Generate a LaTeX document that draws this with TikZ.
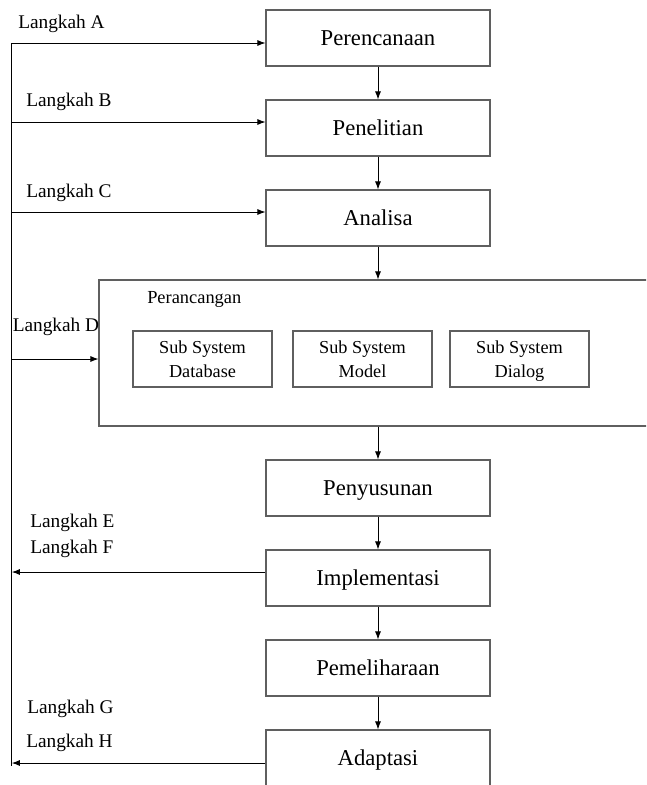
\documentclass[tikz,border=0pt]{standalone}
\usepackage{fontspec}
\setmainfont{Liberation Serif}
\usetikzlibrary{arrows.meta}
\definecolor{boxgray}{RGB}{95,95,95}
\tikzset{
  stepbox/.style={draw=boxgray, line width=0.8pt, minimum width=168pt, minimum height=42pt, inner sep=0pt,
    font=\fontsize{17}{20}\selectfont, text height=11.7pt, text depth=0pt},
  subbox/.style={draw=boxgray, line width=0.8pt, minimum width=104.25pt, minimum height=42pt, inner sep=0pt,
    align=center, font=\fontsize{13.7}{18}\selectfont},
  bigbox/.style={draw=boxgray, line width=0.8pt, minimum width=420.75pt, minimum height=109.5pt, inner sep=0pt},
  lbl/.style={anchor=base west, inner sep=0pt, font=\fontsize{14.5}{17}\selectfont},
  arr/.style={draw=black, line width=0.7pt, -{Latex[length=6pt,width=4.5pt]}},
  ln/.style={draw=black, line width=0.7pt}
}
\begin{document}
\begin{tikzpicture}[x=0.75pt, y=-0.75pt]
\clip (0,0) rectangle (646,785);
\fill[white] (0,0) rectangle (646,785);
% main boxes
\node[stepbox] (a) at (378,38) {Perencanaan};
\node[stepbox] (b) at (378,128) {Penelitian};
\node[stepbox] (c) at (378,218) {Analisa};
\node[bigbox] (per) at (379.5,353) {};
\node[lbl, font=\fontsize{13.8}{16}\selectfont] (perl) at (147,303) {Perancangan};
\node[subbox] (s1) at (202.5,359) {Sub System\\Database};
\node[subbox] (s2) at (362.5,359) {Sub System\\Model};
\node[subbox] (s3) at (519.5,359) {Sub System\\\smash{Dialog}};
\node[stepbox] (e) at (378,488) {Penyusunan};
\node[stepbox] (f) at (378,578) {Implementasi};
\node[stepbox] (g) at (378,668) {Pemeliharaan};
\node[stepbox] (h) at (378,758) {Adaptasi};
% vertical arrows
\draw[arr] (a.south) -- (b.north);
\draw[arr] (b.south) -- (c.north);
\draw[arr] (c.south) -- (c.south |- per.north);
\draw[arr] (c.south |- per.south) -- (e.north);
\draw[arr] (e.south) -- (f.north);
\draw[arr] (f.south) -- (g.north);
\draw[arr] (g.south) -- (h.north);
% left line
\coordinate (lA) at (11,43);
\coordinate (lB) at (11,122);
\coordinate (lC) at (11,212);
\coordinate (lD) at (11,359);
\coordinate (lF) at (11,572);
\coordinate (lH) at (11,763);
\coordinate (lEnd) at (11,766);
\draw[ln] (lA) -- (lEnd);
\draw[arr] (lA) -- (lA -| a.west);
\draw[arr] (lB) -- (lB -| b.west);
\draw[arr] (lC) -- (lC -| c.west);
\draw[arr] (lD) -- (lD -| per.west);
\draw[arr] (lF -| f.west) -- ([xshift=0.6pt]lF);
\draw[arr] (lH -| h.west) -- ([xshift=0.6pt]lH);
% labels
\node[lbl] (tA) at (18,28) {Langkah A};
\node[lbl] (tB) at (26,106) {Langkah B};
\node[lbl] (tC) at (26,197) {Langkah C};
\node[lbl] (tD) at (12.5,331) {Langkah D};
\node[lbl] (tE) at (30,527) {Langkah E};
\node[lbl] (tF) at (30,553) {Langkah F};
\node[lbl] (tG) at (27,713) {Langkah G};
\node[lbl] (tH) at (26,747) {Langkah H};
\end{tikzpicture}
\end{document}
